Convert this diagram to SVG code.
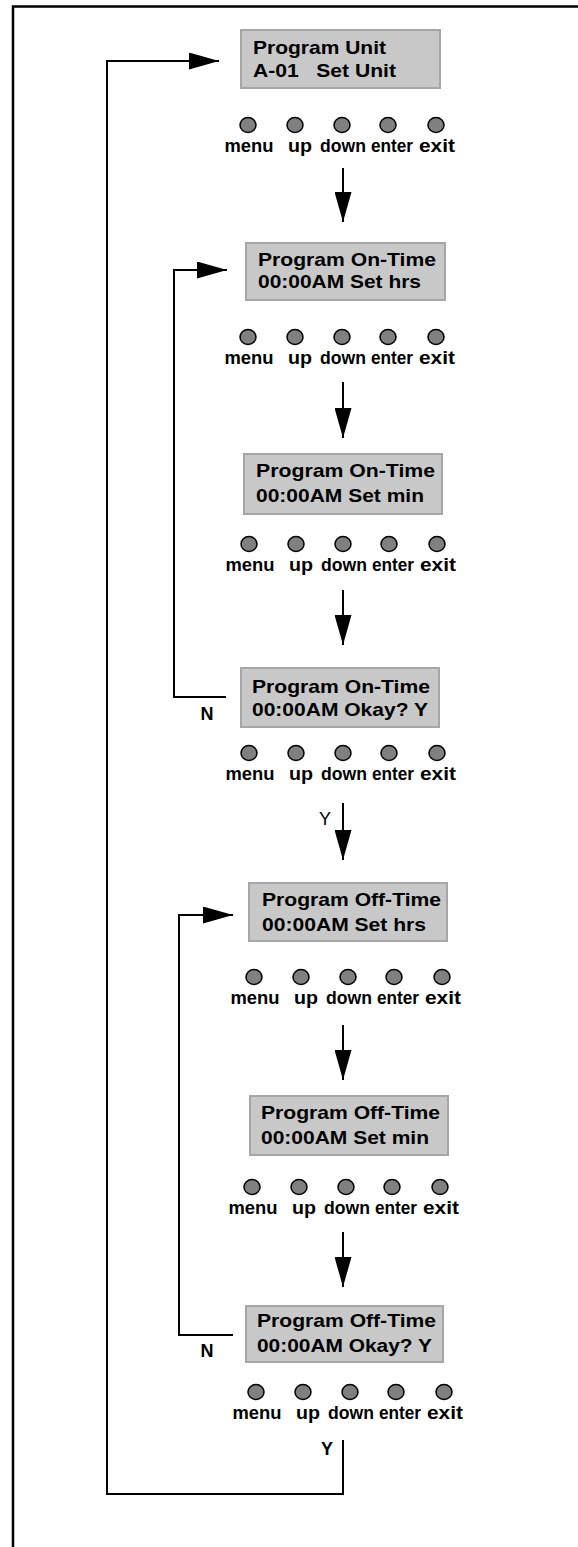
<svg xmlns="http://www.w3.org/2000/svg" width="578" height="1547" viewBox="0 0 578 1547">
<style>
.frame{fill:none;stroke:#000;stroke-width:2.5}
.box{fill:#c8c8c8;stroke:#a6a6a6;stroke-width:2}
.bt{font-family:"Liberation Sans",Arial,sans-serif;font-weight:bold;font-size:18.5px;fill:#000}
.btn{fill:#808080;stroke:#000;stroke-width:1.5}
.lbl{font-family:"Liberation Sans",Arial,sans-serif;font-weight:bold;font-size:19px;fill:#000;text-anchor:middle}
.con{fill:none;stroke:#000;stroke-width:2}
.yn{font-family:"Liberation Sans",Arial,sans-serif;font-weight:bold;font-size:18px;fill:#000;text-anchor:middle}
</style>
<defs>
<marker id="ah" markerUnits="userSpaceOnUse" markerWidth="30" markerHeight="17" refX="30" refY="8.5" orient="auto">
<path d="M0,0 L30,8.5 L0,17 z" fill="#000"/>
</marker>
<g id="buttons">
<ellipse class="btn" cx="0" cy="0" rx="8" ry="7.5"/>
<ellipse class="btn" cx="47" cy="0" rx="8" ry="7.5"/>
<ellipse class="btn" cx="94" cy="0" rx="8" ry="7.5"/>
<ellipse class="btn" cx="140" cy="0" rx="8" ry="7.5"/>
<ellipse class="btn" cx="188" cy="0" rx="8" ry="7.5"/>
<text class="lbl" x="1" y="27" textLength="49" lengthAdjust="spacingAndGlyphs">menu</text>
<text class="lbl" x="52" y="27" textLength="24" lengthAdjust="spacingAndGlyphs">up</text>
<text class="lbl" x="95" y="27" textLength="46" lengthAdjust="spacingAndGlyphs">down</text>
<text class="lbl" x="144" y="27" textLength="42" lengthAdjust="spacingAndGlyphs">enter</text>
<text class="lbl" x="189" y="27" textLength="36" lengthAdjust="spacingAndGlyphs">exit</text>
</g>
</defs>
<rect width="578" height="1547" fill="#fff"/>
<path class="frame" d="M13,1547 V6.5 H578"/>

<g id="connectors">
<path class="con" d="M343,1440 V1494 H107 V61 H219" marker-end="url(#ah)"/>
<path class="con" d="M343,168 V222" marker-end="url(#ah)"/>
<path class="con" d="M343,382 V438" marker-end="url(#ah)"/>
<path class="con" d="M343,590 V645" marker-end="url(#ah)"/>
<path class="con" d="M343,803 V860" marker-end="url(#ah)"/>
<path class="con" d="M343,1025 V1080" marker-end="url(#ah)"/>
<path class="con" d="M343,1232 V1287" marker-end="url(#ah)"/>
<path class="con" d="M226,697 H174 V270 H227" marker-end="url(#ah)"/>
<path class="con" d="M233,1335 H179 V915 H233" marker-end="url(#ah)"/>
<text class="yn" x="207" y="720">N</text>
<text class="yn" x="207" y="1357">N</text>
<text class="yn" x="325" y="825" style="font-weight:normal">Y</text>
<text class="yn" x="327" y="1455">Y</text>
</g>

<g id="node-unit">
<rect class="box" x="241" y="30" width="199" height="58"/>
<text class="bt" x="253" y="54" textLength="133" lengthAdjust="spacingAndGlyphs">Program Unit</text>
<text class="bt" x="253" y="77" textLength="143" lengthAdjust="spacingAndGlyphs" xml:space="preserve">A-01   Set Unit</text>
<use href="#buttons" x="248" y="125"/>
</g>

<g id="node-on-hrs">
<rect class="box" x="246" y="243" width="199" height="57"/>
<text class="bt" x="258" y="266" textLength="178" lengthAdjust="spacingAndGlyphs">Program On-Time</text>
<text class="bt" x="258" y="288" textLength="163" lengthAdjust="spacingAndGlyphs">00:00AM Set hrs</text>
<use href="#buttons" x="248" y="337"/>
</g>

<g id="node-on-min">
<rect class="box" x="244" y="454" width="198" height="60"/>
<text class="bt" x="256" y="477" textLength="179" lengthAdjust="spacingAndGlyphs">Program On-Time</text>
<text class="bt" x="256" y="502" textLength="168" lengthAdjust="spacingAndGlyphs">00:00AM Set min</text>
<use href="#buttons" x="249" y="544"/>
</g>

<g id="node-on-ok">
<rect class="box" x="241" y="668" width="198" height="59"/>
<text class="bt" x="252" y="693" textLength="178" lengthAdjust="spacingAndGlyphs">Program On-Time</text>
<text class="bt" x="252" y="716" textLength="176" lengthAdjust="spacingAndGlyphs">00:00AM Okay? Y</text>
<use href="#buttons" x="249" y="753"/>
</g>

<g id="node-off-hrs">
<rect class="box" x="249" y="883" width="198" height="58"/>
<text class="bt" x="262" y="906" textLength="179" lengthAdjust="spacingAndGlyphs">Program Off-Time</text>
<text class="bt" x="262" y="931" textLength="164" lengthAdjust="spacingAndGlyphs">00:00AM Set hrs</text>
<use href="#buttons" x="254" y="977"/>
</g>

<g id="node-off-min">
<rect class="box" x="250" y="1096" width="198" height="59"/>
<text class="bt" x="261" y="1119" textLength="179" lengthAdjust="spacingAndGlyphs">Program Off-Time</text>
<text class="bt" x="261" y="1144" textLength="168" lengthAdjust="spacingAndGlyphs">00:00AM Set min</text>
<use href="#buttons" x="252" y="1187"/>
</g>

<g id="node-off-ok">
<rect class="box" x="246" y="1306" width="197" height="56"/>
<text class="bt" x="257" y="1327" textLength="179" lengthAdjust="spacingAndGlyphs">Program Off-Time</text>
<text class="bt" x="257" y="1352" textLength="175" lengthAdjust="spacingAndGlyphs">00:00AM Okay? Y</text>
<use href="#buttons" x="256" y="1392"/>
</g>
</svg>
